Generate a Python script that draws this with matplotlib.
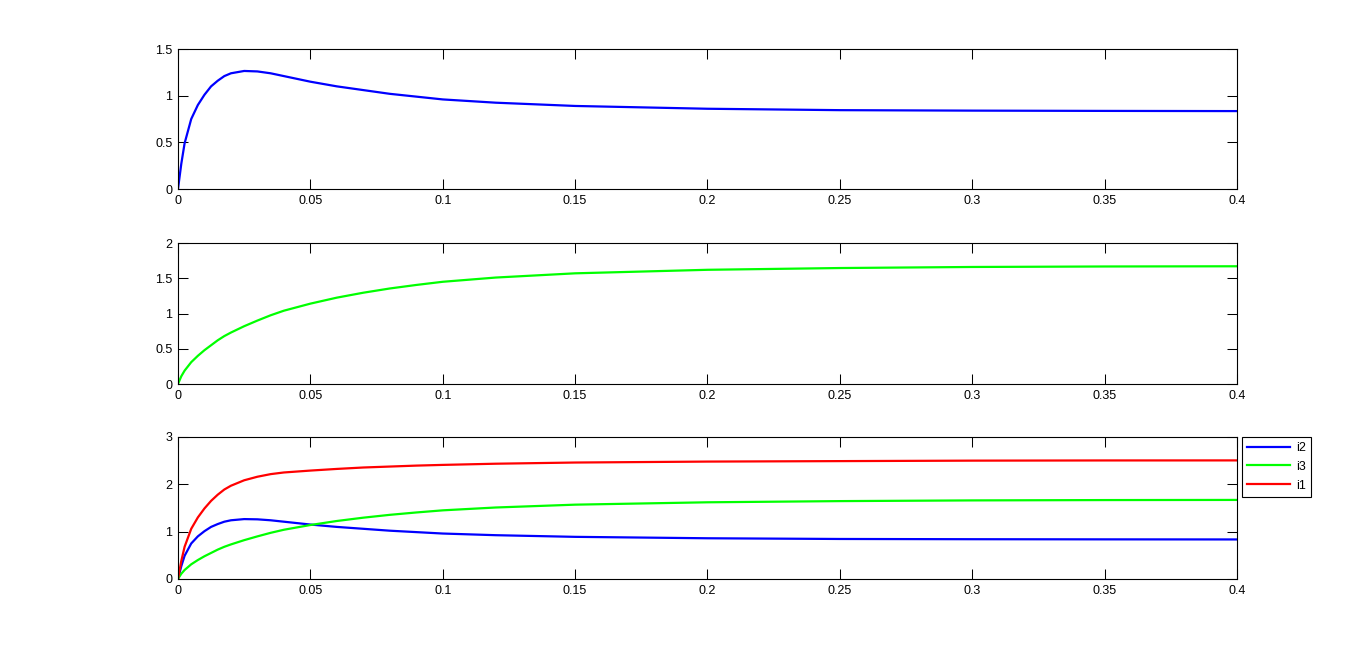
import matplotlib
matplotlib.use("Agg")
import matplotlib.pyplot as plt

plt.rcParams['font.family'] = ['Liberation Sans', 'DejaVu Sans']

# time (s)
t = [0, 0.00125, 0.0025, 0.005, 0.0075, 0.01, 0.0125, 0.015, 0.0175, 0.02,
     0.025, 0.03, 0.035, 0.04, 0.05, 0.06, 0.07, 0.08, 0.09, 0.1,
     0.12, 0.15, 0.2, 0.25, 0.3, 0.35, 0.4]

# currents
i2 = [0, 0.27, 0.49, 0.75, 0.90, 1.01, 1.10, 1.16, 1.21, 1.24,
      1.265, 1.26, 1.24, 1.21, 1.15, 1.10, 1.06, 1.02, 0.99, 0.96,
      0.925, 0.89, 0.86, 0.845, 0.84, 0.837, 0.835]
i3 = [0, 0.11, 0.19, 0.31, 0.40, 0.48, 0.55, 0.62, 0.68, 0.73,
      0.82, 0.90, 0.975, 1.04, 1.14, 1.225, 1.295, 1.355, 1.405, 1.45,
      1.51, 1.57, 1.62, 1.645, 1.66, 1.667, 1.67]
i1 = [0, 0.38, 0.68, 1.06, 1.30, 1.49, 1.65, 1.78, 1.89, 1.97,
      2.085, 2.16, 2.215, 2.25, 2.29, 2.325, 2.355, 2.375, 2.395, 2.41,
      2.435, 2.46, 2.48, 2.49, 2.50, 2.504, 2.505]

xticks = [0, 0.05, 0.1, 0.15, 0.2, 0.25, 0.3, 0.35, 0.4]
xlabels = ['0', '0.05', '0.1', '0.15', '0.2', '0.25', '0.3', '0.35', '0.4']

fig = plt.figure(figsize=(13.67, 6.52), dpi=100)

left, width = 0.1302, 0.7747
ax1 = fig.add_axes([left, 0.7101, width, 0.2147])
ax2 = fig.add_axes([left, 0.4110, width, 0.2163])
ax3 = fig.add_axes([left, 0.1120, width, 0.2178])


def style(ax, yticks, ylabels):
    ax.set_xlim(0, 0.4)
    ax.set_ylim(yticks[0], yticks[-1])
    ax.set_xticks(xticks)
    ax.set_xticklabels(xlabels)
    ax.set_yticks(yticks)
    ax.set_yticklabels(ylabels)
    ax.tick_params(direction='in', length=7, width=0.75, top=True, right=True,
                   labelsize=9, pad=4)
    for s in ax.spines.values():
        s.set_linewidth(0.8)


ax1.plot(t, i2, color='#0000ff', lw=1.6)
style(ax1, [0, 0.5, 1, 1.5], ['0', '0.5', '1', '1.5'])

ax2.plot(t, i3, color='#00ff00', lw=1.6)
style(ax2, [0, 0.5, 1, 1.5, 2], ['0', '0.5', '1', '1.5', '2'])

ax3.plot(t, i2, color='#0000ff', lw=1.6, label='i2')
ax3.plot(t, i3, color='#00ff00', lw=1.6, label='i3')
ax3.plot(t, i1, color='#ff0000', lw=1.6, label='i1')
style(ax3, [0, 1, 2, 3], ['0', '1', '2', '3'])

leg = ax3.legend(loc='upper left', bbox_to_anchor=(1.005, 1.0), fontsize=9,
                 fancybox=False, framealpha=1, edgecolor='black',
                 handlelength=3.4, handletextpad=0.5, borderaxespad=0,
                 labelspacing=0.55)
leg.get_frame().set_linewidth(0.8)

fig.savefig('out.png', dpi=100, facecolor='white')
